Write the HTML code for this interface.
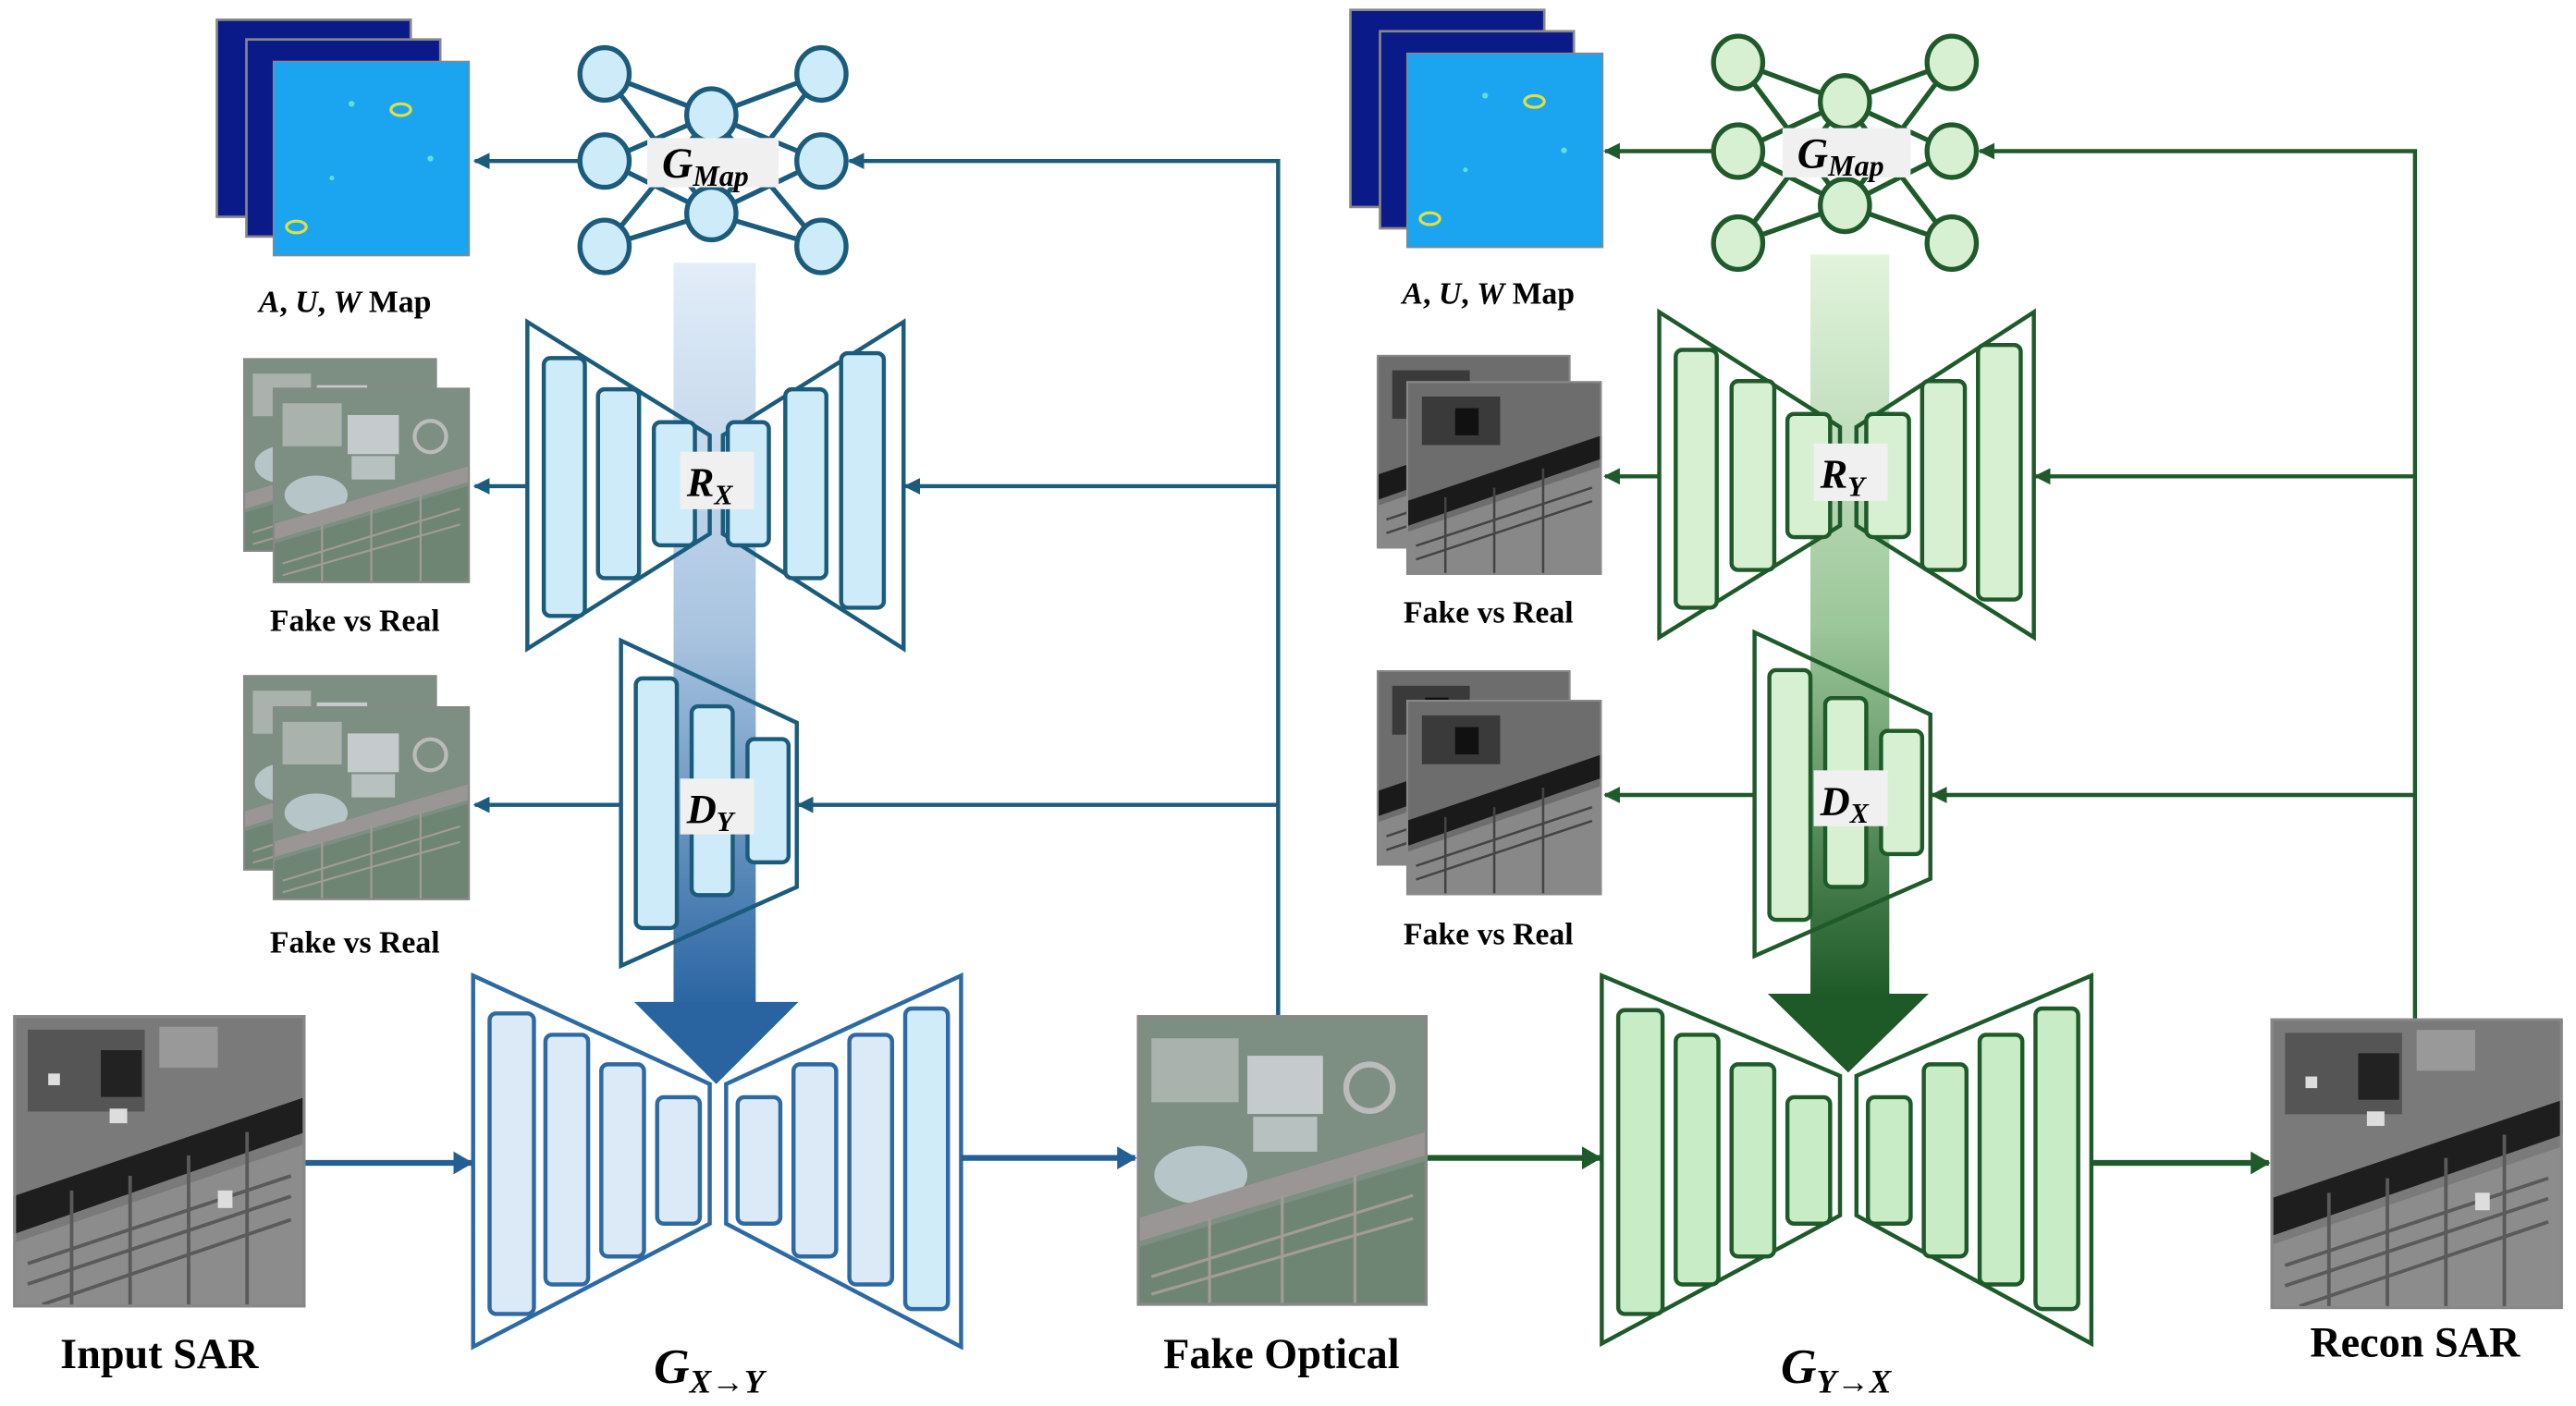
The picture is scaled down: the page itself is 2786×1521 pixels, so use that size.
<!DOCTYPE html>
<html><head><meta charset="utf-8"><style>
html,body{margin:0;padding:0;background:#fff;}
svg{display:block}
text{font-family:"Liberation Serif",serif;font-weight:bold;}
</style></head><body>
<svg width="2786" height="1521" viewBox="0 0 1568 856" xmlns="http://www.w3.org/2000/svg">
<defs>
<linearGradient id="gb" x1="0" y1="0" x2="0" y2="1"><stop offset="0" stop-color="#e2edf8"/><stop offset="0.5" stop-color="#a9c4e0"/><stop offset="1" stop-color="#2a65a2"/></linearGradient>
<linearGradient id="gg" x1="0" y1="0" x2="0" y2="1"><stop offset="0" stop-color="#e2f4dc"/><stop offset="0.5" stop-color="#9cc79a"/><stop offset="1" stop-color="#1d5a27"/></linearGradient>
<marker id="ab" markerWidth="10" markerHeight="10" refX="9" refY="5" orient="auto" markerUnits="userSpaceOnUse"><path d="M0,0 L10,5 L0,10 z" fill="#1b5b7c"/></marker>
<marker id="ab2" markerWidth="12" markerHeight="14" refX="11" refY="7" orient="auto" markerUnits="userSpaceOnUse"><path d="M0,0 L12,7 L0,14 z" fill="#245f94"/></marker>
<marker id="ag" markerWidth="10" markerHeight="10" refX="9" refY="5" orient="auto" markerUnits="userSpaceOnUse"><path d="M0,0 L10,5 L0,10 z" fill="#1e5a2a"/></marker>
<marker id="ag2" markerWidth="12" markerHeight="14" refX="11" refY="7" orient="auto" markerUnits="userSpaceOnUse"><path d="M0,0 L12,7 L0,14 z" fill="#1e5a2a"/></marker>
<symbol id="sar" viewBox="0 0 100 100" preserveAspectRatio="none">
<rect width="100" height="100" fill="#7a7a7a"/>
<rect x="5" y="5" width="40" height="28" fill="#555"/>
<rect x="30" y="12" width="14" height="16" fill="#222"/>
<rect x="50" y="4" width="20" height="14" fill="#999"/>
<path d="M0,62 L100,28 L100,40 L0,75 z" fill="#1e1e1e"/>
<path d="M0,78 L100,44 L100,100 L0,100 z" fill="#8c8c8c"/>
<g stroke="#5a5a5a" stroke-width="1.2"><path d="M5,85 L95,55 M5,92 L95,62 M10,99 L95,70 M20,60 L20,100 M40,55 L40,100 M60,48 L60,100 M80,40 L80,100"/></g>
<g fill="#ddd"><rect x="33" y="32" width="6" height="5"/><rect x="70" y="60" width="5" height="6"/><rect x="12" y="20" width="4" height="4"/></g>
<rect width="100" height="100" fill="none" stroke="#888" stroke-width="2"/>
</symbol>
<symbol id="opt" viewBox="0 0 100 100" preserveAspectRatio="none">
<rect width="100" height="100" fill="#7d8f82"/>
<rect x="5" y="8" width="30" height="22" fill="#a9b2ad"/>
<rect x="38" y="14" width="26" height="20" fill="#c5cbcc"/>
<rect x="40" y="35" width="22" height="12" fill="#b7c2c0"/>
<ellipse cx="22" cy="55" rx="16" ry="10" fill="#b6c6c8"/>
<path d="M0,70 L100,40 L100,48 L0,78 z" fill="#9b9696"/>
<path d="M0,80 L100,50 L100,100 L0,100 z" fill="#6f8574"/>
<g stroke="#a39c95" stroke-width="1"><path d="M5,90 L95,62 M5,96 L95,70 M25,70 L25,100 M50,62 L50,100 M75,55 L75,100"/></g>
<circle cx="80" cy="25" r="8" fill="none" stroke="#bbb" stroke-width="2"/>
<rect width="100" height="100" fill="none" stroke="#888" stroke-width="2"/>
</symbol>
<symbol id="sarG" viewBox="0 0 100 100" preserveAspectRatio="none">
<rect width="100" height="100" fill="#6d6d6d"/>
<rect x="8" y="8" width="40" height="25" fill="#3a3a3a"/>
<rect x="25" y="14" width="12" height="14" fill="#111"/>
<path d="M0,62 L100,28 L100,40 L0,75 z" fill="#1a1a1a"/>
<path d="M0,78 L100,44 L100,100 L0,100 z" fill="#888"/>
<g stroke="#444" stroke-width="1.2"><path d="M5,85 L95,55 M5,92 L95,62 M20,60 L20,100 M45,55 L45,100 M70,45 L70,100"/></g>
<rect width="100" height="100" fill="none" stroke="#888" stroke-width="2"/>
</symbol>
<symbol id="map" viewBox="0 0 100 100" preserveAspectRatio="none">
<rect width="100" height="100" fill="#1ba4ef"/>
<ellipse cx="65" cy="25" rx="5" ry="3" fill="none" stroke="#e0e040" stroke-width="1.5"/>
<ellipse cx="12" cy="85" rx="5" ry="3" fill="none" stroke="#e0e040" stroke-width="1.5"/>
<circle cx="40" cy="22" r="1.5" fill="#5fe0d0"/><circle cx="80" cy="50" r="1.5" fill="#5fe0d0"/><circle cx="30" cy="60" r="1.2" fill="#5fe0d0"/>
<rect width="100" height="100" fill="none" stroke="#888" stroke-width="1.5"/>
</symbol>
</defs>

<!-- ============ LEFT (BLUE) ============ -->
<!-- map stack -->
<rect x="132" y="12" width="118" height="120" fill="#0a1a88" stroke="#888" stroke-width="1.5"/>
<rect x="150" y="24" width="118" height="120" fill="#0a1a88" stroke="#888" stroke-width="1.5"/>
<use href="#map" x="166" y="37" width="120" height="119"/>
<text x="210" y="190" font-size="19" text-anchor="middle"><tspan font-style="italic">A</tspan>, <tspan font-style="italic">U</tspan>, <tspan font-style="italic">W</tspan> Map</text>

<!-- gradient arrow -->
<rect x="410" y="160" width="50" height="452" fill="url(#gb)"/>
<polygon points="386,610 486,610 436,660" fill="#2a64a0"/>

<!-- G_Map network -->
<g stroke="#1b5b7c" stroke-width="3" fill="none">
<path d="M368,45 L433,70 M368,45 L433,130 M368,98 L433,70 M368,98 L433,130 M368,150 L433,70 M368,150 L433,130 M500,45 L433,70 M500,45 L433,130 M500,98 L433,70 M500,98 L433,130 M500,150 L433,70 M500,150 L433,130"/>
</g>
<g fill="#cdebf8" stroke="#1b5b7c" stroke-width="3">
<ellipse cx="368" cy="45" rx="15" ry="16"/><ellipse cx="368" cy="98" rx="15" ry="16"/><ellipse cx="368" cy="150" rx="15" ry="16"/>
<ellipse cx="433" cy="70" rx="15" ry="16"/><ellipse cx="433" cy="130" rx="15" ry="16"/>
<ellipse cx="500" cy="45" rx="15" ry="16"/><ellipse cx="500" cy="98" rx="15" ry="16"/><ellipse cx="500" cy="150" rx="15" ry="16"/>
</g>
<rect x="394" y="84" width="80" height="30" fill="#f0f0f0"/>
<text x="403" y="108" font-size="26" font-style="italic">G<tspan font-size="18" dy="5">Map</tspan></text>

<!-- connectors blue -->
<g stroke="#1b5b7c" stroke-width="2.5" fill="none">
<path d="M352,98 L289,98" marker-end="url(#ab)"/>
<path d="M778,618 L778,98 L517,98" marker-end="url(#ab)"/>
<path d="M778,296 L551,296" marker-end="url(#ab)"/>
<path d="M778,490 L486,490" marker-end="url(#ab)"/>
<path d="M321,296 L289,296" marker-end="url(#ab)"/>
<path d="M378,490 L289,490" marker-end="url(#ab)"/>
</g>

<!-- R_X -->
<g stroke="#1b5b7c" stroke-width="2.5" fill="none">
<polygon points="321,196 432,265 432,325 321,395" fill="#fff" fill-opacity="0"/>
<polygon points="550,196 440,265 440,325 550,395"/>
</g>
<g fill="#cdebf8" stroke="#1b5b7c" stroke-width="2.5">
<rect x="331" y="218" width="25" height="157" rx="4"/><rect x="364" y="237" width="25" height="115" rx="4"/><rect x="398" y="257" width="25" height="75" rx="4"/>
<rect x="443" y="257" width="25" height="75" rx="4"/><rect x="478" y="237" width="25" height="115" rx="4"/><rect x="512" y="215" width="26" height="155" rx="4"/>
</g>
<rect x="414" y="275" width="45" height="35" fill="#f0f0f0"/>
<text x="418" y="302" font-size="25" font-style="italic">R<tspan font-size="17" dy="5">X</tspan></text>

<!-- D_Y -->
<polygon points="378,390 485,440 485,540 378,588" fill="none" stroke="#1b5b7c" stroke-width="2.5"/>
<g fill="#cdebf8" stroke="#1b5b7c" stroke-width="2.5">
<rect x="387" y="413" width="25" height="152" rx="4"/><rect x="421" y="430" width="25" height="115" rx="4"/><rect x="455" y="450" width="25" height="75" rx="4"/>
</g>
<rect x="414" y="474" width="45" height="34" fill="#f0f0f0"/>
<text x="418" y="501" font-size="25" font-style="italic">D<tspan font-size="17" dy="5">Y</tspan></text>

<!-- fake vs real stacks -->
<use href="#opt" x="148" y="218" width="118" height="118"/>
<use href="#opt" x="166" y="236" width="120" height="119"/>
<text x="216" y="384" font-size="19" text-anchor="middle">Fake vs Real</text>
<use href="#opt" x="148" y="411" width="118" height="119"/>
<use href="#opt" x="166" y="430" width="120" height="118"/>
<text x="216" y="580" font-size="19" text-anchor="middle">Fake vs Real</text>

<!-- G_X->Y -->
<g stroke="#2d6aa3" stroke-width="2.5" fill="none">
<polygon points="288,594 432,660 432,745 288,820"/>
<polygon points="585,594 442,660 442,745 585,820"/>
</g>
<g fill="#dce9f7" stroke="#2d6aa3" stroke-width="2.5">
<rect x="298" y="617" width="27" height="183" rx="4"/><rect x="332" y="630" width="26" height="152" rx="4"/><rect x="366" y="648" width="26" height="117" rx="4"/><rect x="400" y="668" width="26" height="77" rx="4"/>
<rect x="449" y="668" width="26" height="77" rx="4"/><rect x="483" y="648" width="26" height="117" rx="4"/><rect x="517" y="630" width="26" height="152" rx="4"/><rect x="551" y="614" width="26" height="183" rx="4" fill="#d0ecf8"/>
</g>
<text x="398" y="842" font-size="30" font-style="italic">G<tspan font-size="20" dy="6">X→Y</tspan></text>

<use href="#sar" x="8" y="618" width="178" height="178"/>
<text x="97" y="833" font-size="26" text-anchor="middle">Input SAR</text>
<g stroke="#245f94" stroke-width="3.5" fill="none">
<path d="M186,708 L287,708" marker-end="url(#ab2)"/>
<path d="M585,705 L691,705" marker-end="url(#ab2)"/>
</g>
<use href="#opt" x="692" y="618" width="177" height="177"/>
<text x="780" y="833" font-size="26" text-anchor="middle">Fake Optical</text>

<!-- ============ RIGHT (GREEN) ============ -->
<rect x="822" y="6" width="118" height="120" fill="#0a1a88" stroke="#888" stroke-width="1.5"/>
<rect x="840" y="19" width="118" height="120" fill="#0a1a88" stroke="#888" stroke-width="1.5"/>
<use href="#map" x="856" y="32" width="120" height="119"/>
<text x="906" y="185" font-size="19" text-anchor="middle"><tspan font-style="italic">A</tspan>, <tspan font-style="italic">U</tspan>, <tspan font-style="italic">W</tspan> Map</text>

<rect x="1102" y="155" width="48" height="452" fill="url(#gg)"/>
<polygon points="1076,605 1174,605 1125,653" fill="#1d5a27"/>

<g stroke="#1e5a2a" stroke-width="3" fill="none">
<path d="M1058,38 L1123,62 M1058,38 L1123,125 M1058,92 L1123,62 M1058,92 L1123,125 M1058,148 L1123,62 M1058,148 L1123,125 M1188,38 L1123,62 M1188,38 L1123,125 M1188,92 L1123,62 M1188,92 L1123,125 M1188,148 L1123,62 M1188,148 L1123,125"/>
</g>
<g fill="#d8f0d2" stroke="#1e5a2a" stroke-width="3">
<ellipse cx="1058" cy="38" rx="15" ry="16"/><ellipse cx="1058" cy="92" rx="15" ry="16"/><ellipse cx="1058" cy="148" rx="15" ry="16"/>
<ellipse cx="1123" cy="62" rx="15" ry="16"/><ellipse cx="1123" cy="125" rx="15" ry="16"/>
<ellipse cx="1188" cy="38" rx="15" ry="16"/><ellipse cx="1188" cy="92" rx="15" ry="16"/><ellipse cx="1188" cy="148" rx="15" ry="16"/>
</g>
<rect x="1085" y="78" width="78" height="30" fill="#f0f0f0"/>
<text x="1094" y="102" font-size="26" font-style="italic">G<tspan font-size="18" dy="5">Map</tspan></text>

<g stroke="#1e5a2a" stroke-width="2.5" fill="none">
<path d="M1042,92 L977,92" marker-end="url(#ag)"/>
<path d="M1470,620 L1470,92 L1205,92" marker-end="url(#ag)"/>
<path d="M1470,290 L1239,290" marker-end="url(#ag)"/>
<path d="M1470,484 L1176,484" marker-end="url(#ag)"/>
<path d="M1010,290 L977,290" marker-end="url(#ag)"/>
<path d="M1068,484 L977,484" marker-end="url(#ag)"/>
</g>

<!-- R_Y -->
<g stroke="#1e5a2a" stroke-width="2.5" fill="none">
<polygon points="1010,190 1120,260 1120,320 1010,388"/>
<polygon points="1238,190 1130,260 1130,320 1238,388"/>
</g>
<g fill="#d8f0d2" stroke="#1e5a2a" stroke-width="2.5">
<rect x="1020" y="213" width="25" height="157" rx="4"/><rect x="1054" y="232" width="26" height="115" rx="4"/><rect x="1088" y="252" width="26" height="75" rx="4"/>
<rect x="1136" y="252" width="26" height="75" rx="4"/><rect x="1170" y="232" width="26" height="115" rx="4"/><rect x="1204" y="210" width="26" height="155" rx="4"/>
</g>
<rect x="1104" y="270" width="45" height="35" fill="#f0f0f0"/>
<text x="1108" y="297" font-size="25" font-style="italic">R<tspan font-size="17" dy="5">Y</tspan></text>

<!-- D_X -->
<polygon points="1068,385 1175,435 1175,535 1068,582" fill="none" stroke="#1e5a2a" stroke-width="2.5"/>
<g fill="#d8f0d2" stroke="#1e5a2a" stroke-width="2.5">
<rect x="1077" y="408" width="25" height="152" rx="4"/><rect x="1111" y="425" width="25" height="115" rx="4"/><rect x="1145" y="445" width="25" height="75" rx="4"/>
</g>
<rect x="1104" y="469" width="45" height="34" fill="#f0f0f0"/>
<text x="1108" y="496" font-size="25" font-style="italic">D<tspan font-size="17" dy="5">X</tspan></text>

<use href="#sarG" x="838" y="216" width="118" height="118"/>
<use href="#sarG" x="856" y="232" width="119" height="118"/>
<text x="906" y="379" font-size="19" text-anchor="middle">Fake vs Real</text>
<use href="#sarG" x="838" y="408" width="118" height="119"/>
<use href="#sarG" x="856" y="426" width="119" height="119"/>
<text x="906" y="575" font-size="19" text-anchor="middle">Fake vs Real</text>

<!-- G_Y->X -->
<g stroke="#1e5a2a" stroke-width="2.5" fill="none">
<polygon points="975,594 1120,655 1120,740 975,818"/>
<polygon points="1273,594 1130,655 1130,740 1273,818"/>
</g>
<g fill="#c8edc6" stroke="#1e5a2a" stroke-width="2.5">
<rect x="985" y="615" width="27" height="185" rx="4"/><rect x="1020" y="630" width="26" height="152" rx="4"/><rect x="1054" y="648" width="26" height="117" rx="4"/><rect x="1088" y="668" width="26" height="77" rx="4"/>
<rect x="1137" y="668" width="26" height="77" rx="4"/><rect x="1171" y="648" width="26" height="117" rx="4"/><rect x="1205" y="630" width="26" height="152" rx="4"/><rect x="1239" y="614" width="26" height="183" rx="4"/>
</g>
<text x="1084" y="842" font-size="30" font-style="italic">G<tspan font-size="20" dy="6">Y→X</tspan></text>

<g stroke="#1e5a2a" stroke-width="3.5" fill="none">
<path d="M869,705 L974,705" marker-end="url(#ag2)"/>
<path d="M1273,708 L1381,708" marker-end="url(#ag2)"/>
</g>
<use href="#sar" x="1382" y="620" width="178" height="177"/>
<text x="1470" y="826" font-size="26" text-anchor="middle">Recon SAR</text>
</svg>
</body></html>
